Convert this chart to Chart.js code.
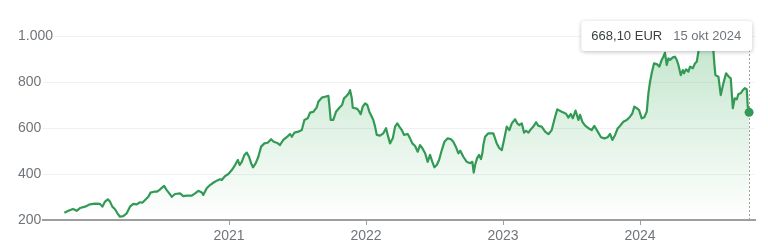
<!DOCTYPE html>
<html>
<head>
<meta charset="utf-8">
<script src="https://cdn.jsdelivr.net/npm/chart.js@4.4.1/dist/chart.umd.min.js"></script>
<style>
  html, body { margin: 0; padding: 0; background: #fff; }
  #wrap { width: 768px; height: 251px; position: relative; }
</style>
</head>
<body>
<div id="wrap"><canvas id="priceChart"></canvas></div>
<script>
// Weekly-ish closes (x as decimal year)
const dates = [
  2019.798, 2019.827, 2019.861, 2019.888, 2019.912, 2019.949, 2019.985, 2020.022, 2020.058, 2020.075,
  2020.095, 2020.115, 2020.131, 2020.148, 2020.168, 2020.185, 2020.204, 2020.228, 2020.253, 2020.277,
  2020.301, 2020.326, 2020.350, 2020.367, 2020.387, 2020.411, 2020.427, 2020.453, 2020.472, 2020.491,
  2020.509, 2020.526, 2020.545, 2020.564, 2020.582, 2020.606, 2020.642, 2020.666, 2020.691, 2020.728,
  2020.752, 2020.776, 2020.801, 2020.812, 2020.837, 2020.861, 2020.885, 2020.910, 2020.934, 2020.947,
  2020.971, 2020.995, 2021.020, 2021.044, 2021.064, 2021.078, 2021.093, 2021.112, 2021.129, 2021.146,
  2021.161, 2021.175, 2021.195, 2021.214, 2021.234, 2021.258, 2021.282, 2021.307, 2021.326, 2021.348,
  2021.372, 2021.396, 2021.421, 2021.445, 2021.458, 2021.477, 2021.506, 2021.531, 2021.550, 2021.574,
  2021.591, 2021.615, 2021.640, 2021.652, 2021.677, 2021.701, 2021.725, 2021.732, 2021.742, 2021.761,
  2021.781, 2021.805, 2021.825, 2021.839, 2021.859, 2021.874, 2021.883, 2021.896, 2021.903, 2021.920,
  2021.936, 2021.951, 2021.961, 2021.976, 2021.993, 2022.009, 2022.024, 2022.042, 2022.053, 2022.066,
  2022.078, 2022.102, 2022.126, 2022.146, 2022.158, 2022.175, 2022.195, 2022.212, 2022.228, 2022.243,
  2022.261, 2022.277, 2022.304, 2022.321, 2022.338, 2022.358, 2022.377, 2022.394, 2022.411, 2022.431,
  2022.450, 2022.467, 2022.484, 2022.499, 2022.516, 2022.533, 2022.553, 2022.572, 2022.596, 2022.620,
  2022.637, 2022.655, 2022.674, 2022.688, 2022.710, 2022.735, 2022.759, 2022.776, 2022.786, 2022.796,
  2022.810, 2022.825, 2022.839, 2022.849, 2022.856, 2022.869, 2022.881, 2022.893, 2022.929, 2022.954,
  2022.973, 2022.991, 2023.007, 2023.027, 2023.046, 2023.064, 2023.088, 2023.104, 2023.119, 2023.137,
  2023.153, 2023.168, 2023.185, 2023.202, 2023.221, 2023.241, 2023.258, 2023.282, 2023.307, 2023.331,
  2023.355, 2023.380, 2023.396, 2023.428, 2023.460, 2023.477, 2023.494, 2023.509, 2023.529, 2023.550,
  2023.562, 2023.579, 2023.599, 2023.623, 2023.647, 2023.666, 2023.691, 2023.715, 2023.739, 2023.764,
  2023.781, 2023.798, 2023.818, 2023.837, 2023.854, 2023.878, 2023.903, 2023.927, 2023.944, 2023.958,
  2023.976, 2023.993, 2024.012, 2024.031, 2024.049, 2024.061, 2024.073, 2024.085, 2024.102, 2024.122,
  2024.141, 2024.158, 2024.170, 2024.182, 2024.195, 2024.207, 2024.219, 2024.239, 2024.255, 2024.268,
  2024.280, 2024.297, 2024.312, 2024.321, 2024.336, 2024.353, 2024.365, 2024.385, 2024.401, 2024.414,
  2024.426, 2024.433, 2024.453, 2024.474, 2024.496, 2024.518, 2024.535, 2024.542, 2024.550, 2024.572,
  2024.589, 2024.608, 2024.628, 2024.647, 2024.662, 2024.677, 2024.691, 2024.706, 2024.718, 2024.735,
  2024.750, 2024.766, 2024.779, 2024.786, 2024.796
];

const prices = [
  232, 240, 248, 240, 252, 258, 268, 271, 270, 258,
  280, 290, 280, 258, 247, 229, 214, 217, 229, 258,
  270, 268, 277, 275, 287, 301, 319, 323, 323, 330,
  340, 348, 330, 316, 301, 313, 316, 304, 306, 306,
  316, 327, 320, 309, 338, 352, 362, 371, 377, 374,
  391, 400, 417, 439, 461, 439, 453, 483, 493, 475,
  447, 429, 447, 475, 519, 533, 536, 551, 540, 536,
  526, 548, 560, 574, 562, 580, 584, 591, 635, 642,
  667, 670, 690, 714, 732, 736, 740, 700, 635, 635,
  671, 688, 700, 729, 740, 751, 765, 729, 688, 686,
  683, 671, 660, 693, 707, 700, 671, 649, 635, 606,
  570, 567, 577, 599, 570, 533, 555, 606, 620, 606,
  591, 570, 574, 555, 533, 522, 497, 526, 512, 490,
  453, 483, 453, 429, 439, 461, 504, 540, 555, 551,
  540, 519, 490, 501, 475, 453, 447, 453, 406, 439,
  468, 483, 465, 490, 526, 562, 570, 577, 577, 533,
  512, 504, 548, 606, 591, 620, 638, 620, 613, 620,
  580, 588, 580, 594, 606, 625, 609, 606, 584, 573,
  591, 649, 681, 671, 662, 645, 661, 642, 676, 635,
  657, 627, 610, 599, 591, 609, 584, 560, 555, 560,
  574, 548, 570, 599, 609, 627, 635, 649, 664, 693,
  686, 678, 642, 647, 671, 751, 801, 838, 881, 878,
  867, 896, 910, 927, 874, 903, 896, 907, 910, 896,
  874, 830, 852, 838, 855, 845, 867, 860, 881, 888,
  932, 953, 985, 1000, 990, 970, 939, 881, 830, 823,
  743, 794, 838, 823, 816, 686, 729, 725, 748, 751,
  765, 773, 768, 693, 668.1
];

const yearTicks = [2021, 2022, 2023, 2024];
const priceTicks = [200, 400, 600, 800, 1000];

const tooltipPrice = '668,10 EUR';
const tooltipDate = '15 okt 2024';

const lineColor = '#339a55';
const lastIndex = prices.length - 1;

function formatThousands(v) {
  return String(v).replace(/\B(?=(\d{3})+$)/g, '.');
}

// dotted guide + tooltip box for the last point
const lastPointMarker = {
  id: 'lastPointMarker',
  beforeDatasetsDraw(chart) {
    const { ctx, chartArea, scales } = chart;
    const px = Math.round(scales.x.getPixelForValue(dates[lastIndex])) + 0.5;
    ctx.save();
    ctx.strokeStyle = '#9e9e9e';
    ctx.lineWidth = 1;
    ctx.setLineDash([2, 2]);
    ctx.beginPath();
    ctx.moveTo(px, chartArea.top + 14);
    ctx.lineTo(px, chartArea.bottom);
    ctx.stroke();
    ctx.restore();
  },
  afterDraw(chart) {
    const { ctx, chartArea, scales } = chart;
    const px = scales.x.getPixelForValue(dates[lastIndex]);
    ctx.save();
    ctx.font = '13px Arial, "Liberation Sans", sans-serif';
    const w1 = ctx.measureText(tooltipPrice).width;
    const w2 = ctx.measureText(tooltipDate).width;
    const boxW = 10 + w1 + 11 + w2 + 11;
    const boxH = 30;
    const right = px + 3;
    const left = right - boxW;
    const top = chartArea.top - 15;

    ctx.shadowColor = 'rgba(0,0,0,0.25)';
    ctx.shadowBlur = 4;
    ctx.shadowOffsetY = 1;
    ctx.fillStyle = '#fff';
    ctx.beginPath();
    ctx.roundRect(left, top, boxW, boxH, 3);
    ctx.fill();
    ctx.shadowColor = 'transparent';

    ctx.textBaseline = 'middle';
    ctx.fillStyle = '#3c4043';
    ctx.fillText(tooltipPrice, left + 10, top + boxH / 2);
    ctx.fillStyle = '#70757a';
    ctx.fillText(tooltipDate, left + 10 + w1 + 11, top + boxH / 2);
    ctx.restore();
  }
};

const ctx = document.getElementById('priceChart').getContext('2d');
new Chart(ctx, {
  type: 'line',
  data: {
    datasets: [{
      data: dates.map((d, i) => ({ x: d, y: prices[i] })),
      borderColor: lineColor,
      borderWidth: 2.2,
      borderJoinStyle: 'round',
      tension: 0,
      clip: false,
      fill: 'start',
      backgroundColor: (c) => {
        const area = c.chart.chartArea;
        if (!area) return 'transparent';
        const g = c.chart.ctx.createLinearGradient(0, area.top, 0, area.bottom);
        g.addColorStop(0, 'rgba(52,168,83,0.3)');
        g.addColorStop(1, 'rgba(52,168,83,0)');
        return g;
      },
      pointRadius: (c) => c.dataIndex === lastIndex ? 4.5 : 0,
      pointBackgroundColor: lineColor,
      pointBorderWidth: 0
    }]
  },
  options: {
    responsive: true,
    maintainAspectRatio: false,
    animation: false,
    events: [],
    layout: { padding: { top: 36, left: 43, right: 13, bottom: 0 } },
    plugins: { legend: { display: false }, tooltip: { enabled: false } },
    scales: {
      x: {
        type: 'linear',
        min: 2019.642,
        max: 2024.839,
        afterBuildTicks: (s) => { s.ticks = yearTicks.map(v => ({ value: v })); },
        afterFit: (s) => { s.height = 31; },
        ticks: {
          color: '#70757a',
          font: { family: 'Arial', size: 14 },
          padding: 3,
          maxRotation: 0,
          callback: (v) => String(v)
        },
        grid: { drawOnChartArea: false, drawTicks: true, tickLength: 5, tickColor: '#9e9e9e' },
        border: { display: true, color: '#9e9e9e', width: 2 }
      },
      y: {
        min: 200,
        max: 1000,
        afterBuildTicks: (s) => { s.ticks = priceTicks.map(v => ({ value: v })); },
        afterFit: (s) => { s.width = 0; },
        ticks: {
          color: '#70757a',
          font: { family: 'Arial', size: 14 },
          mirror: true,
          crossAlign: 'near',
          padding: -25,
          callback: (v) => formatThousands(v)
        },
        grid: {
          drawTicks: false,
          color: (c) => c.tick && c.tick.value === 200 ? 'transparent' : '#f1f1f1'
        },
        border: { display: false }
      }
    }
  },
  plugins: [lastPointMarker]
});
</script>
</body>
</html>
